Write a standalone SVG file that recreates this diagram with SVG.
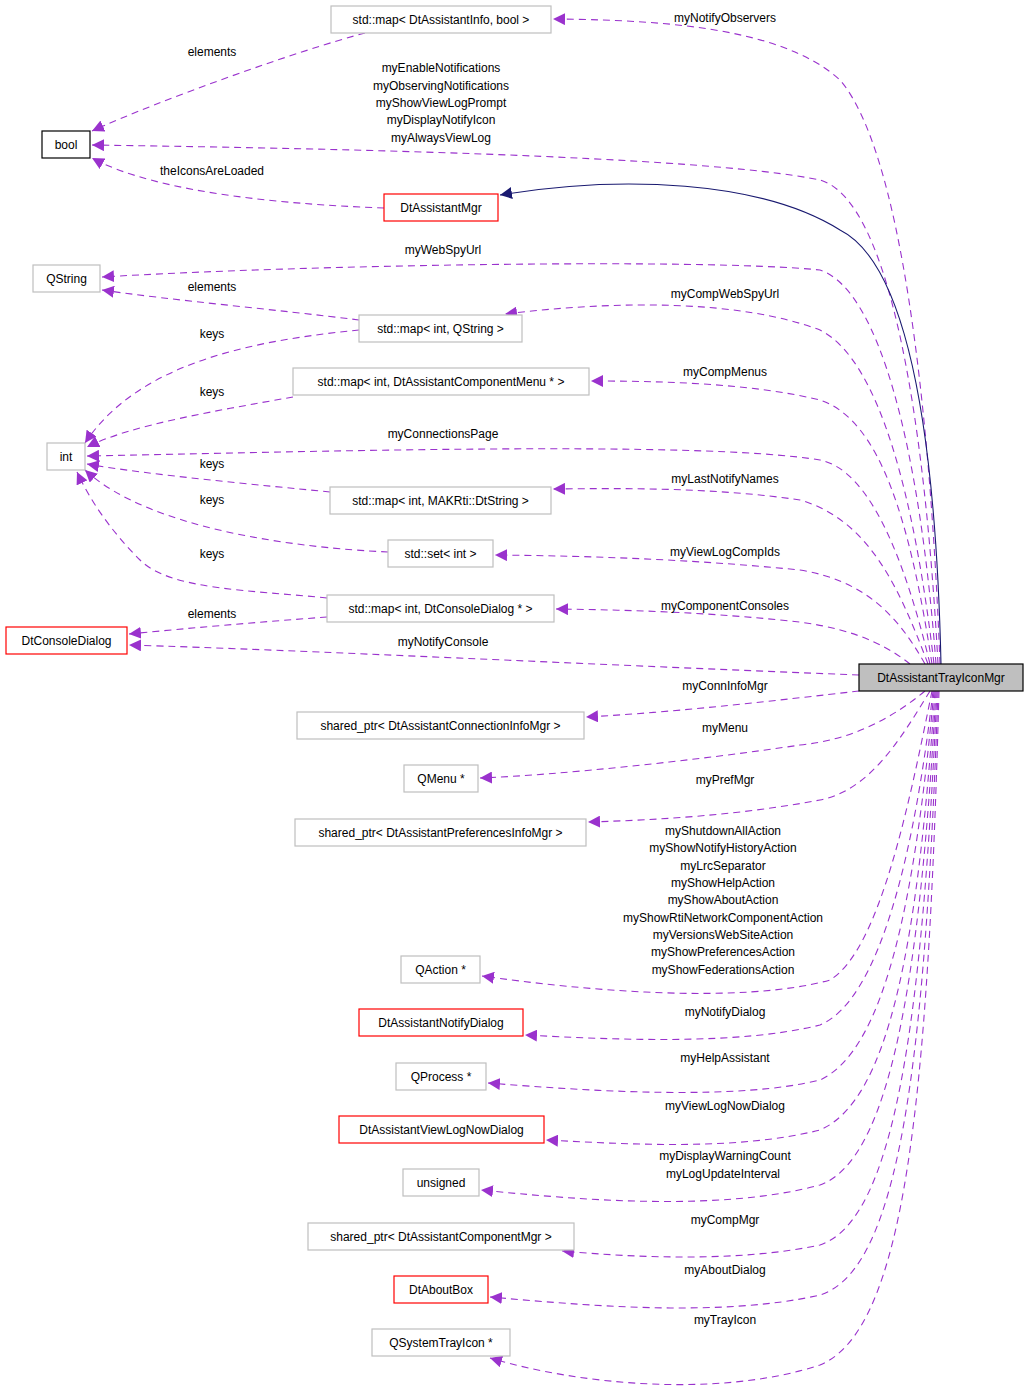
<svg xmlns="http://www.w3.org/2000/svg" width="1029" height="1391" viewBox="0 0 1029 1391">
<defs>
<marker id="a" viewBox="0 0 10 10" refX="10" refY="5" markerWidth="12" markerHeight="12" markerUnits="userSpaceOnUse" orient="auto"><path d="M0,0 L10,5 L0,10 z" fill="#9a32cd"/></marker>
<marker id="n" viewBox="0 0 10 10" refX="10" refY="5" markerWidth="12" markerHeight="12" markerUnits="userSpaceOnUse" orient="auto"><path d="M0,0 L10,5 L0,10 z" fill="#191970"/></marker>
</defs>
<style>
text{font-family:"Liberation Sans",Arial,sans-serif;font-size:12px;fill:#000;text-anchor:middle;dominant-baseline:central}
.g rect{fill:#fff;stroke:#bfbfbf;stroke-width:1.2}
.r rect{fill:#fff;stroke:#ff0000;stroke-width:1.2}
.k rect{fill:#fff;stroke:#000;stroke-width:1.2}
.m rect{fill:#bfbfbf;stroke:#000;stroke-width:1.2}
#edges path{fill:none;stroke:#9a32cd;stroke-dasharray:7,5;stroke-width:1.1;marker-end:url(#a)}
#edges path.inh{stroke:#191970;stroke-dasharray:none;marker-end:url(#n)}
</style>
<rect width="1029" height="1391" fill="#fff"/>
<g id="edges">
<path d="M940,664 C930,400 900,150 840,80 C780,25 650,20 553,19"/>
<path d="M938,664 C925,420 890,200 820,180 C700,155 300,148 92,145"/>
<path class="inh" d="M941,664 C935,400 900,260 840,230 C760,180 620,175 500,195"/>
<path d="M936,664 C920,450 880,290 820,270 C700,258 300,265 102,277"/>
<path d="M934,664 C915,500 880,360 820,330 C740,300 620,300 505,314"/>
<path d="M932,664 C910,520 880,420 820,400 C750,383 660,381 591,381"/>
<path d="M930,664 C905,560 870,470 820,460 C700,440 300,452 87,456"/>
<path d="M928,664 C900,590 870,520 800,500 C720,488 630,488 553,489"/>
<path d="M925,664 C895,610 860,580 800,570 C700,560 600,556 495,555"/>
<path d="M910,664 C880,640 840,625 780,620 C700,612 630,610 556,609"/>
<path d="M859,675 C600,665 300,650 129,645"/>
<path d="M859,691 C780,700 680,712 586,717"/>
<path d="M925,691 C890,720 850,740 800,745 C700,760 560,775 480,778"/>
<path d="M930,691 C900,740 870,790 820,800 C740,815 660,820 588,822"/>
<path d="M932,691 C910,800 880,950 830,980 C740,1005 580,990 482,976"/>
<path d="M933,691 C915,850 880,1000 820,1025 C740,1045 620,1040 525,1035"/>
<path d="M934,691 C915,900 885,1050 820,1080 C740,1100 600,1092 488,1083"/>
<path d="M935,691 C918,940 890,1100 820,1130 C740,1150 640,1145 546,1140"/>
<path d="M936,691 C920,980 890,1160 820,1185 C720,1212 580,1200 481,1190"/>
<path d="M937,691 C922,1020 895,1220 820,1245 C740,1262 640,1258 562,1251"/>
<path d="M938,691 C925,1060 900,1270 820,1295 C720,1318 580,1305 490,1297"/>
<path d="M939,691 C928,1100 905,1330 820,1365 C720,1398 580,1385 490,1358"/>
<path d="M365,33 C300,50 160,100 92,131"/>
<path d="M384,208 C300,205 160,195 92,158"/>
<path d="M359,320 C280,310 170,300 102,290"/>
<path d="M359,330 C260,340 140,360 85,443"/>
<path d="M293,397 C220,410 130,425 87,447"/>
<path d="M330,492 C260,485 150,475 87,464"/>
<path d="M388,552 C300,548 150,530 85,470"/>
<path d="M327,598 C250,590 170,590 140,560 C110,530 90,500 77,472"/>
<path d="M327,617 C260,622 190,628 129,634"/>
</g>
<g id="labels">
<text x="725" y="18">myNotifyObservers</text>
<text x="212" y="52">elements</text>
<text x="441" y="68">myEnableNotifications</text>
<text x="441" y="86">myObservingNotifications</text>
<text x="441" y="103">myShowViewLogPrompt</text>
<text x="441" y="120">myDisplayNotifyIcon</text>
<text x="441" y="138">myAlwaysViewLog</text>
<text x="212" y="171">theIconsAreLoaded</text>
<text x="443" y="250">myWebSpyUrl</text>
<text x="212" y="287">elements</text>
<text x="725" y="294">myCompWebSpyUrl</text>
<text x="212" y="334">keys</text>
<text x="725" y="372">myCompMenus</text>
<text x="212" y="392">keys</text>
<text x="443" y="434">myConnectionsPage</text>
<text x="212" y="464">keys</text>
<text x="725" y="479">myLastNotifyNames</text>
<text x="212" y="500">keys</text>
<text x="725" y="552">myViewLogCompIds</text>
<text x="212" y="554">keys</text>
<text x="725" y="606">myComponentConsoles</text>
<text x="212" y="614">elements</text>
<text x="443" y="642">myNotifyConsole</text>
<text x="725" y="686">myConnInfoMgr</text>
<text x="725" y="728">myMenu</text>
<text x="725" y="780">myPrefMgr</text>
<text x="723" y="831">myShutdownAllAction</text>
<text x="723" y="848">myShowNotifyHistoryAction</text>
<text x="723" y="866">myLrcSeparator</text>
<text x="723" y="883">myShowHelpAction</text>
<text x="723" y="900">myShowAboutAction</text>
<text x="723" y="918">myShowRtiNetworkComponentAction</text>
<text x="723" y="935">myVersionsWebSiteAction</text>
<text x="723" y="952">myShowPreferencesAction</text>
<text x="723" y="970">myShowFederationsAction</text>
<text x="725" y="1012">myNotifyDialog</text>
<text x="725" y="1058">myHelpAssistant</text>
<text x="725" y="1106">myViewLogNowDialog</text>
<text x="725" y="1156">myDisplayWarningCount</text>
<text x="723" y="1174">myLogUpdateInterval</text>
<text x="725" y="1220">myCompMgr</text>
<text x="725" y="1270">myAboutDialog</text>
<text x="725" y="1320">myTrayIcon</text>
</g>
<g id="main" class="m"><rect x="859" y="664" width="164" height="27"/><text x="941" y="677.5">DtAssistantTrayIconMgr</text></g>
<g id="mapInfoBool" class="g"><rect x="331" y="6" width="220" height="27"/><text x="441" y="19.5">std::map&lt; DtAssistantInfo, bool &gt;</text></g>
<g id="bool" class="k"><rect x="42" y="131" width="48" height="27"/><text x="66" y="144.5">bool</text></g>
<g id="DtAssistantMgr" class="r"><rect x="384" y="194" width="114" height="27"/><text x="441" y="207.5">DtAssistantMgr</text></g>
<g id="QString" class="g"><rect x="33" y="265" width="67" height="27"/><text x="66.5" y="278.5">QString</text></g>
<g id="mapIntQString" class="g"><rect x="359" y="315" width="163" height="27"/><text x="440.5" y="328.5">std::map&lt; int, QString &gt;</text></g>
<g id="mapCompMenu" class="g"><rect x="293" y="368" width="296" height="27"/><text x="441" y="381.5">std::map&lt; int, DtAssistantComponentMenu * &gt;</text></g>
<g id="int" class="g"><rect x="47" y="443" width="38" height="27"/><text x="66" y="456.5">int</text></g>
<g id="mapDtString" class="g"><rect x="330" y="487" width="221" height="27"/><text x="440.5" y="500.5">std::map&lt; int, MAKRti::DtString &gt;</text></g>
<g id="setInt" class="g"><rect x="388" y="540" width="105" height="27"/><text x="440.5" y="553.5">std::set&lt; int &gt;</text></g>
<g id="mapConsole" class="g"><rect x="327" y="595" width="227" height="27"/><text x="440.5" y="608.5">std::map&lt; int, DtConsoleDialog * &gt;</text></g>
<g id="DtConsoleDialog" class="r"><rect x="6" y="627" width="121" height="27"/><text x="66.5" y="640.5">DtConsoleDialog</text></g>
<g id="spConnInfo" class="g"><rect x="297" y="712" width="287" height="27"/><text x="440.5" y="725.5">shared_ptr&lt; DtAssistantConnectionInfoMgr &gt;</text></g>
<g id="QMenu" class="g"><rect x="404" y="765" width="74" height="27"/><text x="441" y="778.5">QMenu *</text></g>
<g id="spPref" class="g"><rect x="295" y="819" width="291" height="27"/><text x="440.5" y="832.5">shared_ptr&lt; DtAssistantPreferencesInfoMgr &gt;</text></g>
<g id="QAction" class="g"><rect x="401" y="956" width="79" height="27"/><text x="440.5" y="969.5">QAction *</text></g>
<g id="NotifyDialog" class="r"><rect x="359" y="1009" width="164" height="27"/><text x="441" y="1022.5">DtAssistantNotifyDialog</text></g>
<g id="QProcess" class="g"><rect x="396" y="1063" width="90" height="27"/><text x="441" y="1076.5">QProcess *</text></g>
<g id="ViewLogNow" class="r"><rect x="339" y="1116" width="205" height="27"/><text x="441.5" y="1129.5">DtAssistantViewLogNowDialog</text></g>
<g id="unsigned" class="g"><rect x="403" y="1169" width="76" height="27"/><text x="441" y="1182.5">unsigned</text></g>
<g id="spCompMgr" class="g"><rect x="308" y="1223" width="266" height="27"/><text x="441" y="1236.5">shared_ptr&lt; DtAssistantComponentMgr &gt;</text></g>
<g id="DtAboutBox" class="r"><rect x="394" y="1276" width="94" height="27"/><text x="441" y="1289.5">DtAboutBox</text></g>
<g id="QSystemTrayIcon" class="g"><rect x="372" y="1329" width="138" height="27"/><text x="441" y="1342.5">QSystemTrayIcon *</text></g>
</svg>
